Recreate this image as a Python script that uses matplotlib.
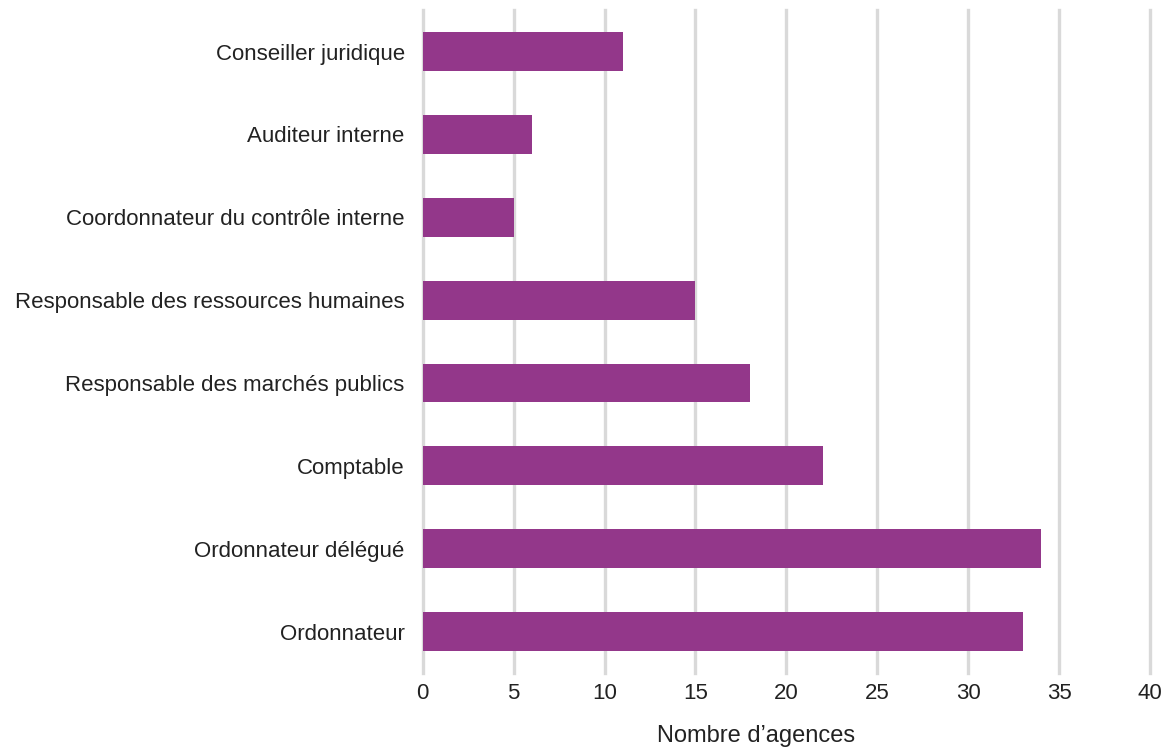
import matplotlib.pyplot as plt

# Nombre d'agences par fonction
fonctions = ["Ordonnateur", "Ordonnateur délégué", "Comptable",
             "Responsable des marchés publics",
             "Responsable des ressources humaines",
             "Coordonnateur du contrôle interne", "Auditeur interne",
             "Conseiller juridique"]
nb_agences = [33, 34, 22, 18, 15, 5, 6, 11]
graduations = [0, 5, 10, 15, 20, 25, 30, 35, 40]

plt.rcParams['font.family'] = ['Liberation Sans', 'DejaVu Sans']

fig = plt.figure(figsize=(11.71, 7.49), dpi=100)
ax = fig.add_axes([0.361, 0.1015, 0.621, 0.885])

ax.barh(range(len(fonctions)), nb_agences, height=0.47, color='#93378a', zorder=3)

ax.set_xlim(0, 40)
ax.set_ylim(-0.5, len(fonctions) - 0.5)
ax.set_xticks(graduations)
ax.set_yticks(range(len(fonctions)))
ax.set_yticklabels(fonctions)
ax.tick_params(axis='both', length=0, labelsize=16, colors='#222222')
ax.tick_params(axis='y', pad=13)
ax.tick_params(axis='x', pad=7)

# grille verticale grise
ax.grid(axis='x', color='#d9d9d9', linewidth=2.4, zorder=0)
for gl in ax.xaxis.get_gridlines():
    gl.set_clip_on(False)
for s in ax.spines.values():
    s.set_visible(False)

ax.set_xlabel("Nombre d’agences", fontsize=17, color='#222222')
ax.xaxis.set_label_coords(0.459, -0.078)

plt.savefig('out.png', dpi=100)
